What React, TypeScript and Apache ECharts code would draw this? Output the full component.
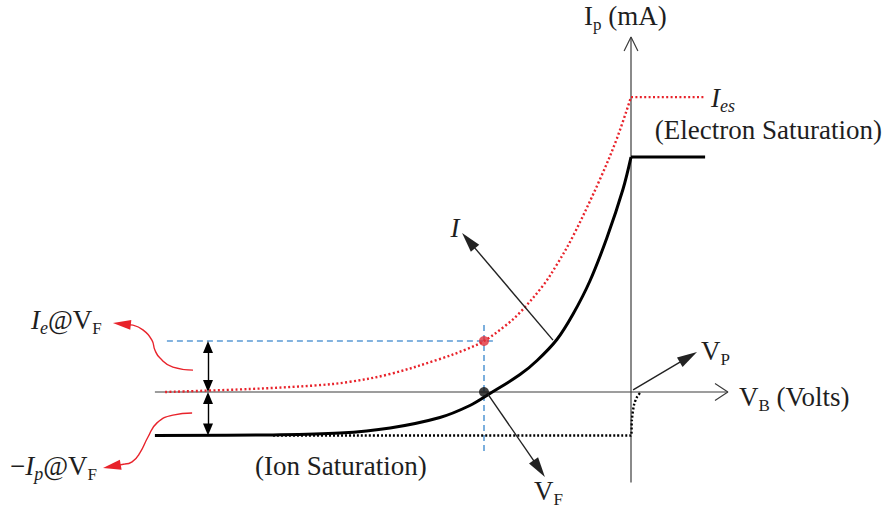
import React, { useEffect, useRef } from "react";
import * as echarts from "echarts";

// Schematic Langmuir-probe characteristic. x: probe bias V_B (V), y: probe current I_p (mA)
const xRange = [-20, 8];
const yRange = [-3, 12];

// Measured probe current (solid black)
const probeCurrent = [
  [-15.87, -1.45], [-11.93, -1.43], [-9.7, -1.37], [-8.03, -1.2], [-6.37, -0.85],
  [-5.37, -0.45], [-4.7, -0.05], [-3.7, 0.58], [-3.13, 1.05], [-2.47, 1.75],
  [-1.93, 2.6], [-1.37, 3.7], [-0.8, 5.15], [-0.27, 6.75], [0, 7.83],
];
const electronSaturation = [[0, 7.83], [2.47, 7.83]];

// Electron current (red dotted)
const electronCurrent = [
  [-15.53, 0], [-12.7, 0.1], [-10.5, 0.22], [-9.37, 0.34], [-8.03, 0.6], [-6.37, 1.1],
  [-5.5, 1.42], [-4.9, 1.7], [-4.2, 2.2], [-3.7, 2.65], [-2.93, 3.55], [-2.47, 4.25],
  [-1.93, 5.2], [-1.03, 7.1], [-0.47, 8.45], [0, 9.83],
];
const electronSatLevel = [[0, 9.83], [2.47, 9.83]];

// Ion current extension (black dotted)
const ionCurrent = [[-11.93, -1.45], [0, -1.45], [0.03, -0.93], [0.1, -0.43], [0.2, -0.17], [0.33, 0]];

// Key levels
const floatingPotential = -4.9;
const ieAtVf = 1.7;
const ionSat = -1.45;

// Axes extents
const xAxisLine = [[-15.87, 0], [3.23, 0]];
const xAxisHead = [[2.8, 0.28], [3.23, 0], [2.8, -0.28]];
const yAxisLine = [[0, -3.43], [0, 11.83]];
const yAxisHead = [[-0.23, 11.37], [0, 11.83], [0.23, 11.37]];

// Guides
const guideH = [[-15.47, ieAtVf], [-4.6, ieAtVf]];
const guideV = [[floatingPotential, 2.23], [floatingPotential, -2.1]];

// Pointer arrows [from, tip]
const pointerI = [[-2.6, 1.73], [-5.63, 5.3]];
const pointerVF = [[-4.8, -0.03], [-2.87, -2.83]];
const pointerVP = [[0.07, 0.07], [2.2, 1.33]];

// Red callout curves
const calloutUpper = [[-14.6, 0.73], [-15.27, 0.83], [-15.7, 1.13], [-15.87, 1.4], [-15.97, 1.73], [-16.27, 2.07], [-16.6, 2.23]];
const calloutUpperTip = [-17.27, 2.3];
const calloutLower = [[-14.63, -0.7], [-15.27, -0.77], [-15.8, -1.03], [-16.1, -1.5], [-16.37, -2.03], [-16.63, -2.33], [-16.87, -2.4]];
const calloutLowerTip = [-17.6, -2.53];

const PX = 30; // px per unit (both axes)

function arrowCoords(from: number[], tip: number[], headLen: number) {
  const dx = tip[0] - from[0];
  const dy = tip[1] - from[1];
  const d = Math.hypot(dx, dy);
  const back = headLen / 2 / PX;
  return [from, [tip[0] - (dx / d) * back, tip[1] - (dy / d) * back]];
}

const FONT = "'Liberation Serif', 'Times New Roman', serif";
const TXT = "#1e1e1e";
const rich = {
  m: { fontFamily: FONT, fontSize: 27, lineHeight: 34, color: TXT, verticalAlign: "middle" },
  mi: { fontFamily: FONT, fontSize: 27, lineHeight: 34, color: TXT, fontStyle: "italic", verticalAlign: "middle" },
  s: { fontFamily: FONT, fontSize: 17, lineHeight: 17, color: TXT, verticalAlign: "bottom" },
  si: { fontFamily: FONT, fontSize: 18, lineHeight: 17, color: TXT, fontStyle: "italic", verticalAlign: "bottom" },
};

function label(text: string, x: number, y: number, align: string = "left") {
  return {
    type: "text",
    x,
    y,
    silent: true,
    style: { text, rich, align, verticalAlign: "middle", fontFamily: FONT, fontSize: 27, fill: TXT },
  };
}

function lineSeries(data: number[][], color: string, width: number, type: any = "solid", smooth: any = false, z = 2) {
  return {
    type: "line",
    data,
    smooth,
    showSymbol: false,
    symbol: "none",
    silent: true,
    z,
    lineStyle: { color, width, type, cap: "butt" },
  };
}

function arrowSeries(coords: number[][][], color: string, width: number, sym: any, size: any, z = 4) {
  return {
    type: "lines",
    coordinateSystem: "cartesian2d",
    silent: true,
    z,
    symbol: sym,
    symbolSize: size,
    itemStyle: { color },
    lineStyle: { color, width, opacity: 1, curveness: 0 },
    data: coords.map((c) => ({ coords: c })),
  };
}

export default function App() {
  const ref = useRef<HTMLDivElement>(null);
  useEffect(() => {
    if (!ref.current) return;
    const chart = echarts.init(ref.current, undefined, { renderer: "svg" });
    const red = "#e8232b";
    const black = "#000000";
    const axisC = "#3c3c3c";
    const blue = "#5b9bd5";
    chart.setOption({
      animation: false,
      backgroundColor: "#ffffff",
      grid: { left: 31, right: 15, top: 32, bottom: 37 },
      xAxis: { type: "value", min: xRange[0], max: xRange[1], show: false },
      yAxis: { type: "value", min: yRange[0], max: yRange[1], show: false },
      series: [
        lineSeries(xAxisLine, axisC, 1.2),
        lineSeries(xAxisHead, axisC, 1.2),
        lineSeries(yAxisLine, axisC, 1.2),
        lineSeries(yAxisHead, axisC, 1.2),
        lineSeries(guideH, blue, 1.6, [6, 4], false, 3),
        lineSeries(guideV, blue, 1.6, [6, 4], false, 3),
        lineSeries(ionCurrent, black, 2.4, [2, 2], 0.3, 3),
        lineSeries(electronCurrent, red, 2.4, [2, 2.4], 0.35, 3),
        lineSeries(electronSatLevel, red, 2.4, [2, 2.4], false, 3),
        lineSeries(probeCurrent, black, 3, "solid", 0.35, 5),
        lineSeries(electronSaturation, black, 3, "solid", false, 5),
        lineSeries(calloutUpper, red, 1.4, "solid", 0.5, 4),
        lineSeries(calloutLower, red, 1.4, "solid", 0.5, 4),
        arrowSeries(
          [arrowCoords(calloutUpper[calloutUpper.length - 1], calloutUpperTip, 18),
           arrowCoords(calloutLower[calloutLower.length - 1], calloutLowerTip, 18)],
          red, 1.4, ["none", "triangle"], [[10, 18], [10, 18]], 4
        ),
        arrowSeries(
          [arrowCoords(pointerI[0], pointerI[1], 20),
           arrowCoords(pointerVF[0], pointerVF[1], 20),
           arrowCoords(pointerVP[0], pointerVP[1], 20)],
          "#222222", 1.4, ["none", "triangle"], [[11, 20], [11, 20]], 6
        ),
        arrowSeries(
          [[[-14.1, ieAtVf - 0.2], [-14.1, 0.2]], [[-14.1, -0.2], [-14.1, ionSat + 0.2]]],
          black, 1.4, ["triangle", "triangle"], [[10, 12], [10, 12]], 6
        ),
        {
          type: "scatter",
          silent: true,
          z: 7,
          symbolSize: 10,
          data: [
            { value: [floatingPotential, ieAtVf], itemStyle: { color: "#e0303a" } },
            { value: [floatingPotential, 0], itemStyle: { color: "#111111" } },
          ],
        },
      ],
      graphic: [
        label("{m|I}{s|p}{m| (mA)}", 584, 16),
        label("{mi|I}{si|es}", 711, 98),
        label("{m|(Electron Saturation)}", 882, 130, "right"),
        label("{mi|I}", 455, 228, "center"),
        label("{m|V}{s|P}", 701, 351),
        label("{m|V}{s|B}{m| (Volts)}", 739, 397),
        label("{m|V}{s|F}", 534, 491),
        label("{m|(Ion Saturation)}", 255, 466),
        label("{mi|I}{si|e}{m|@V}{s|F}", 31, 320),
        label("{m|−}{mi|I}{si|p}{m|@V}{s|F}", 10, 466),
      ],
    });
    return () => chart.dispose();
  }, []);
  return (
    <div
      ref={ref}
      style={{ position: "fixed", left: 0, top: 0, width: 886, height: 519, background: "#fff" }}
    />
  );
}
